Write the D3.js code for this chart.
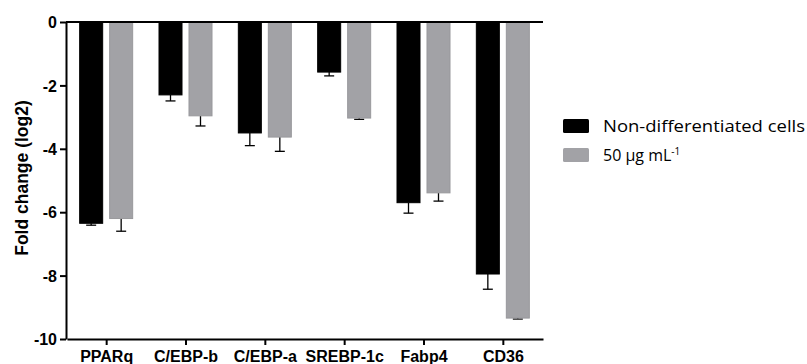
<!DOCTYPE html>
<html>
<head>
<meta charset="utf-8">
<script src="https://cdn.jsdelivr.net/npm/d3@7"></script>
<style>
  body { margin: 0; background: #fff; }
  svg { display: block; }
</style>
</head>
<body>
<svg id="plotCanvas" width="807" height="364"></svg>
<script>
// genes on the x axis
var genes = ["PPARq", "C/EBP-b", "C/EBP-a", "SREBP-1c", "Fabp4", "CD36"];
var seriesNames = ["Non-differentiated cells", "50 µg mL"];
// fold change (log2) per gene
var nonDiff = [-6.35, -2.3, -3.5, -1.58, -5.7, -7.95];
var dose50 = [-6.2, -2.96, -3.63, -3.03, -5.39, -9.34];
// error bars (SD), drawn downward
var nonDiffErr = [0.06, 0.19, 0.4, 0.12, 0.33, 0.48];
var dose50Err = [0.4, 0.32, 0.45, 0.04, 0.26, 0.03];
var yTicks = [0, -2, -4, -6, -8, -10];

var canvasWidth = 807, canvasHeight = 364;
var canvas = d3.select("#plotCanvas");
var colors = ["#000000", "#a2a2a6"];

var x = d3.scaleBand().domain(genes).range([67, 543]).padding(0);
var xs = d3.scaleBand().domain(seriesNames).range([-27, 26]).paddingInner(0.233);
var y = d3.scaleLinear().domain([-10, 0]).range([339, 22]);

var rows = genes.map(function(g, i) {
    return [
        {gene: g, s: seriesNames[0], v: nonDiff[i], e: nonDiffErr[i], c: 0},
        {gene: g, s: seriesNames[1], v: dose50[i], e: dose50Err[i], c: 1}
    ];
});

var groups = canvas.selectAll("g.gene")
    .data(rows)
    .enter().append("g")
    .attr("class", "gene")
    .attr("transform", function(d) { return "translate(" + (x(d[0].gene) + x.bandwidth() / 2) + ",0)"; });

// error bars first, then bars on top
groups.selectAll("line.err")
    .data(function(d) { return d; })
    .enter().append("line")
    .attr("class", "err")
    .attr("x1", function(d) { return xs(d.s) + xs.bandwidth() / 2; })
    .attr("x2", function(d) { return xs(d.s) + xs.bandwidth() / 2; })
    .attr("y1", function(d) { return y(d.v); })
    .attr("y2", function(d) { return y(d.v - d.e); })
    .attr("stroke", "#000")
    .attr("stroke-width", 1.3);

groups.selectAll("line.cap")
    .data(function(d) { return d; })
    .enter().append("line")
    .attr("class", "cap")
    .attr("x1", function(d) { return xs(d.s) + xs.bandwidth() / 2 - 5; })
    .attr("x2", function(d) { return xs(d.s) + xs.bandwidth() / 2 + 5; })
    .attr("y1", function(d) { return y(d.v - d.e); })
    .attr("y2", function(d) { return y(d.v - d.e); })
    .attr("stroke", "#000")
    .attr("stroke-width", 1.3);

groups.selectAll("rect")
    .data(function(d) { return d; })
    .enter().append("rect")
    .attr("x", function(d) { return xs(d.s); })
    .attr("y", y(0))
    .attr("width", xs.bandwidth())
    .attr("height", function(d) { return y(d.v) - y(0); })
    .attr("fill", function(d) { return colors[d.c]; })
    .attr("stroke", function(d) { return d.c ? "#98989c" : "#000"; })
    .attr("stroke-width", 1);

// zero line along the top
canvas.append("line")
    .attr("x1", 66).attr("x2", 543)
    .attr("y1", y(0)).attr("y2", y(0))
    .attr("stroke", "#000")
    .attr("stroke-width", 2);

var yAxis = canvas.append("g")
    .attr("transform", "translate(66,0)")
    .call(d3.axisLeft(y).tickValues(yTicks).tickFormat(function(d) { return String(d); }).tickSize(6).tickSizeOuter(0));

var xAxis = canvas.append("g")
    .attr("transform", "translate(0," + y(-10) + ")")
    .call(d3.axisBottom(x).tickSize(6).tickSizeOuter(0));

[yAxis, xAxis].forEach(function(a) {
    a.select(".domain").attr("stroke-width", 2);
    a.selectAll(".tick line").attr("stroke-width", 2);
    a.selectAll("text")
        .attr("font-family", "'Liberation Sans', Arial, sans-serif")
        .attr("font-weight", "bold")
        .attr("font-size", "16px")
        .attr("fill", "#000");
});
yAxis.selectAll("text").attr("x", -9).attr("dy", "0.35em");
xAxis.selectAll("text").attr("y", 22.5).attr("dy", 0);

canvas.append("text")
    .attr("transform", "translate(28,178) rotate(-90)")
    .attr("text-anchor", "middle")
    .attr("font-family", "'Liberation Sans', Arial, sans-serif")
    .attr("font-weight", "bold")
    .attr("font-size", "17.5px")
    .text("Fold change (log2)");

// legend
var legend = canvas.append("g").attr("class", "legend");
legend.selectAll("rect")
    .data(seriesNames)
    .enter().append("rect")
    .attr("x", 563)
    .attr("y", function(d, i) { return 119 + i * 29; })
    .attr("width", 26)
    .attr("height", 14)
    .attr("rx", 1.5)
    .attr("fill", function(d, i) { return colors[i]; });

legend.append("text")
    .attr("x", 603).attr("y", 132)
    .attr("font-family", "'Open Sans', sans-serif")
    .attr("font-size", "16px")
    .attr("textLength", 202)
    .attr("lengthAdjust", "spacingAndGlyphs")
    .text(seriesNames[0]);

var t2 = legend.append("text")
    .attr("x", 603).attr("y", 161)
    .attr("font-family", "'Open Sans', sans-serif")
    .attr("font-size", "16px");
t2.append("tspan").text(seriesNames[1]);
t2.append("tspan").attr("dy", -6).attr("font-size", "10px").text("-1");
</script>
</body>
</html>
